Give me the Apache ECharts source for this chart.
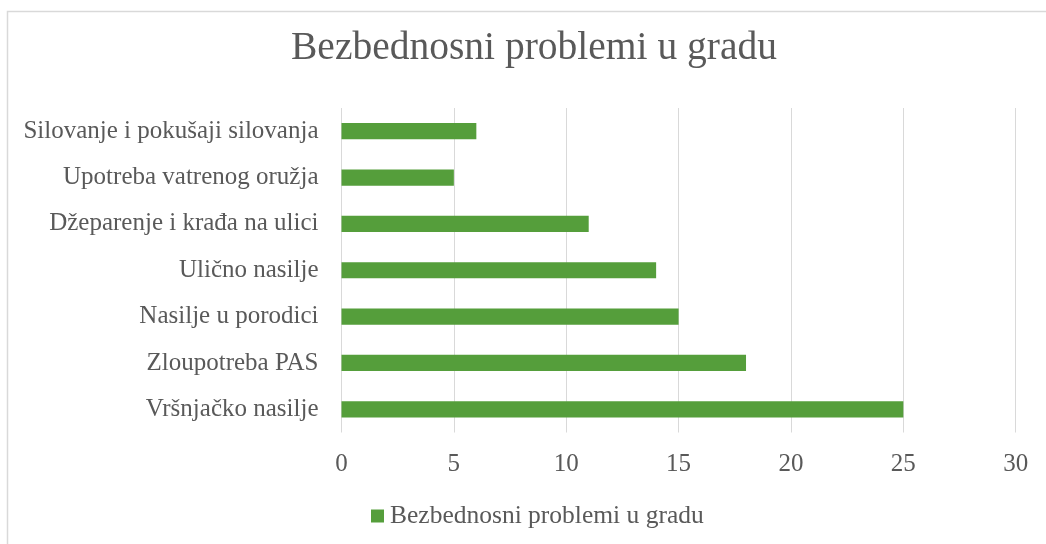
<!DOCTYPE html>
<html>
<head>
<meta charset="utf-8">
<script src="https://cdn.jsdelivr.net/npm/echarts@6/dist/echarts.min.js"></script>
<style>
html,body{margin:0;padding:0;background:#fff;}
#chart{width:1046px;height:544px;}
</style>
</head>
<body>
<div id="chart"></div>
<script>
const titleText = 'Bezbednosni problemi u gradu';
const seriesName = 'Bezbednosni problemi u gradu';
const categories = ['Vršnjačko nasilje','Zloupotreba PAS','Nasilje u porodici','Ulično nasilje','Džeparenje i krađa na ulici','Upotreba vatrenog oružja','Silovanje i pokušaji silovanja'];
const values = [25, 18, 15, 14, 11, 5, 6];
const xMin = 0, xMax = 30, xStep = 5;

const FONT = 'Liberation Serif';
const chart = echarts.init(document.getElementById('chart'), null, {renderer:'canvas'});
chart.setOption({
  animation:false,
  backgroundColor:'#ffffff',
  graphic:[{type:'rect', shape:{x:7.5,y:11.5,width:1100,height:600}, style:{fill:'none',stroke:'#d9d9d9',lineWidth:1.5}, silent:true}],
  title:{text:titleText, left:529, textAlign:'center', top:24,
    textStyle:{fontFamily:FONT, fontSize:39.5, fontWeight:'normal', color:'#595959'}},
  legend:{data:[seriesName], left:366, bottom:10, itemWidth:13, itemHeight:13, itemGap:10,
    icon:'rect', textStyle:{fontFamily:FONT, fontSize:25.5, color:'#595959', padding:[0,0,0,1]}},
  grid:{left:341.5, right:30.3, top:108, bottom:111.5, containLabel:false},
  xAxis:{type:'value', min:xMin, max:xMax, interval:xStep,
    axisLine:{show:false}, axisTick:{show:false},
    splitLine:{show:true, lineStyle:{color:'#d9d9d9', width:1}},
    axisLabel:{fontFamily:FONT, fontSize:25, color:'#595959', margin:19}},
  yAxis:{type:'category', data:categories,
    axisLine:{show:false}, axisTick:{show:false},
    axisLabel:{fontFamily:FONT, fontSize:25, color:'#595959', margin:23}},
  series:[{name:seriesName, type:'bar', data:values, barWidth:'35%',
    itemStyle:{color:'#559e3b'}}]
});
</script>
</body>
</html>
